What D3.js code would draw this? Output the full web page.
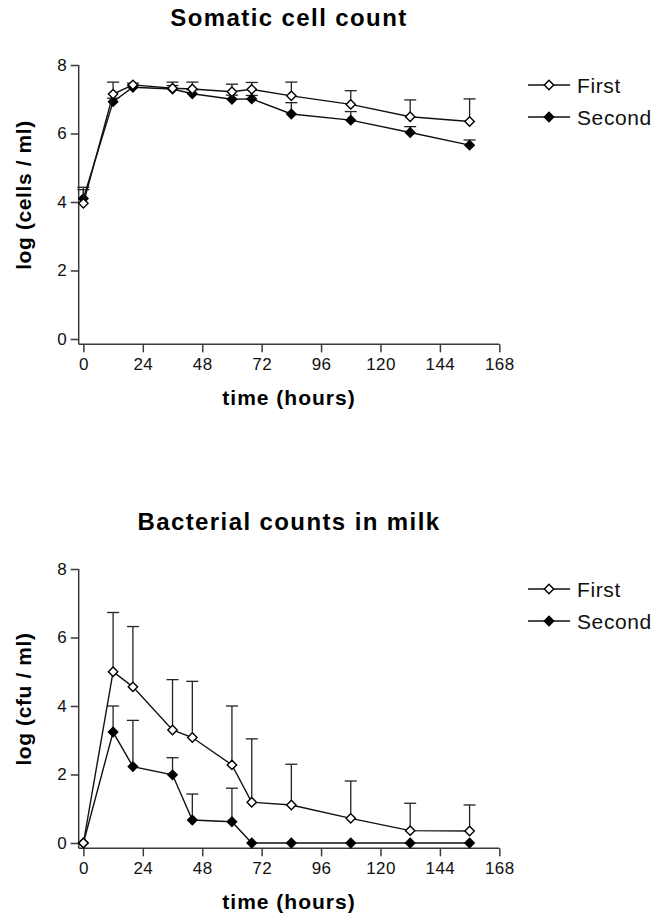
<!DOCTYPE html>
<html>
<head>
<meta charset="utf-8">
<script src="https://cdn.jsdelivr.net/npm/d3@7"></script>
<style>
  html, body { margin: 0; padding: 0; background: #fff; }
  svg { display: block; font-family: "Liberation Sans", Arial, Helvetica, sans-serif; }
</style>
</head>
<body>
<svg id="chart" width="657" height="920"></svg>
<script>
// Sampling times (hours after challenge)
const hours = [0, 12, 20, 36, 44, 60, 68, 84, 108, 132, 156];
const xTicks = [0, 24, 48, 72, 96, 120, 144, 168];
const yTicks = [0, 2, 4, 6, 8];
const seriesNames = ["First", "Second"];

// Somatic cell count, log(cells/ml): means and upper SD
const sccFirst = [3.96, 7.15, 7.42, 7.32, 7.30, 7.22, 7.29, 7.10, 6.85, 6.49, 6.35];
const sccFirstSd = [0.40, 0.35, 0.05, 0.18, 0.20, 0.22, 0.20, 0.40, 0.40, 0.49, 0.66];
const sccSecond = [4.10, 6.93, 7.35, 7.30, 7.16, 7.00, 7.01, 6.57, 6.39, 6.03, 5.66];
const sccSecondSd = [0.33, 0.10, 0.05, 0.10, 0.12, 0.12, 0.10, 0.33, 0.25, 0.17, 0.15];

// Bacterial counts in milk, log(cfu/ml): means and upper SD
const bacFirst = [0, 5.00, 4.56, 3.30, 3.08, 2.28, 1.19, 1.11, 0.72, 0.36, 0.35];
const bacFirstSd = [0, 1.73, 1.76, 1.47, 1.64, 1.72, 1.85, 1.19, 1.09, 0.80, 0.76];
const bacSecond = [0, 3.24, 2.23, 1.99, 0.67, 0.62, 0, 0, 0, 0, 0];
const bacSecondSd = [0, 0.76, 1.35, 0.50, 0.76, 0.98, 0, 0, 0, 0, 0];

const svg = d3.select("#chart");
const axisColor = "#3a3a3a";

function panel(cfg) {
  const g = svg.append("g").attr("transform", `translate(0,${cfg.top})`);
  const x = d3.scaleLinear().domain([0, 168]).range([83.4, 499.3]);
  const y = d3.scaleLinear().domain([0, 8]).range([274, 0]);
  const axisX = 78.7;       // y-axis line position
  const axisY = y(0) + 5.3; // x-axis line position

  // Title
  g.append("text")
    .attr("x", 289).attr("y", -39)
    .attr("text-anchor", "middle")
    .attr("font-size", 24).attr("font-weight", "bold")
    .attr("letter-spacing", 1.4)
    .text(cfg.title);

  // Axis lines
  g.append("line").attr("x1", axisX).attr("x2", axisX)
    .attr("y1", y(8)).attr("y2", axisY)
    .attr("stroke", axisColor).attr("stroke-width", 1.5);
  g.append("line").attr("x1", axisX).attr("x2", x(168))
    .attr("y1", axisY).attr("y2", axisY)
    .attr("stroke", axisColor).attr("stroke-width", 1.5);

  // Y axis ticks/labels
  const ya = g.append("g").attr("transform", `translate(${axisX},0)`)
    .call(d3.axisLeft(y).tickValues(yTicks).tickSize(8).tickPadding(4).tickFormat(d3.format("d")));
  ya.select(".domain").remove();
  ya.selectAll("line").attr("stroke", axisColor).attr("stroke-width", 1.5);
  ya.selectAll("text").attr("font-size", 17).attr("fill", "#111")
    .attr("font-family", "Liberation Sans, Arial, sans-serif");

  // X axis ticks/labels
  const xa = g.append("g").attr("transform", `translate(0,${axisY})`)
    .call(d3.axisBottom(x).tickValues(xTicks).tickSize(8).tickPadding(6).tickFormat(d3.format("d")));
  xa.select(".domain").remove();
  xa.selectAll("line").attr("stroke", axisColor).attr("stroke-width", 1.5);
  xa.selectAll("text").attr("font-size", 17).attr("fill", "#111")
    .attr("letter-spacing", 0.4)
    .attr("font-family", "Liberation Sans, Arial, sans-serif");

  // Axis titles
  g.append("text")
    .attr("x", 289).attr("y", axisY + 61)
    .attr("text-anchor", "middle")
    .attr("font-size", 21).attr("font-weight", "bold")
    .attr("letter-spacing", 1)
    .text("time (hours)");
  g.append("text")
    .attr("transform", `translate(31,${y(4) - 7}) rotate(-90)`)
    .attr("text-anchor", "middle")
    .attr("font-size", 21).attr("font-weight", "bold")
    .attr("letter-spacing", 0.6)
    .text(cfg.yLabel);

  const diamond = d3.symbol().type(d3.symbolDiamond2).size(56);
  const line = d3.line().x(d => x(d.t)).y(d => y(d.v));

  function drawSeries(vals, sds, fill) {
    const pts = hours.map((t, i) => ({ t, v: vals[i], sd: sds[i] }));
    g.append("path").datum(pts)
      .attr("d", line).attr("fill", "none")
      .attr("stroke", "#111").attr("stroke-width", 1.4);
    const eb = g.append("g").selectAll("g").data(pts.filter(d => d.sd > 0)).join("g");
    eb.append("line")
      .attr("x1", d => x(d.t)).attr("x2", d => x(d.t))
      .attr("y1", d => y(d.v)).attr("y2", d => y(d.v + d.sd))
      .attr("stroke", "#222").attr("stroke-width", 1.3);
    eb.append("line")
      .attr("x1", d => x(d.t) - 6).attr("x2", d => x(d.t) + 6)
      .attr("y1", d => y(d.v + d.sd)).attr("y2", d => y(d.v + d.sd))
      .attr("stroke", "#222").attr("stroke-width", 1.3);
    g.append("g").selectAll("path").data(pts).join("path")
      .attr("d", diamond)
      .attr("transform", d => `translate(${x(d.t)},${y(d.v)})`)
      .attr("fill", fill).attr("stroke", "#000").attr("stroke-width", 1.4);
  }

  drawSeries(cfg.second, cfg.secondSd, "#000");
  drawSeries(cfg.first, cfg.firstSd, "#fff");

  // Legend
  const leg = g.append("g").selectAll("g")
    .data(seriesNames).join("g")
    .attr("transform", (d, i) => `translate(528,${20 + i * 32})`);
  leg.append("line").attr("x1", 0).attr("x2", 42).attr("y1", 0).attr("y2", 0)
    .attr("stroke", "#111").attr("stroke-width", 1.4);
  leg.append("path").attr("d", diamond)
    .attr("transform", "translate(21,0)")
    .attr("fill", (d, i) => i === 0 ? "#fff" : "#000")
    .attr("stroke", "#000").attr("stroke-width", 1.4);
  leg.append("text").attr("x", 49).attr("y", 7.5)
    .attr("font-size", 21).attr("fill", "#111")
    .attr("letter-spacing", 0.6)
    .text(d => d);
}

panel({
  top: 65, title: "Somatic cell count", yLabel: "log (cells / ml)",
  first: sccFirst, firstSd: sccFirstSd, second: sccSecond, secondSd: sccSecondSd
});
panel({
  top: 569, title: "Bacterial counts in milk", yLabel: "log (cfu / ml)",
  first: bacFirst, firstSd: bacFirstSd, second: bacSecond, secondSd: bacSecondSd
});
</script>
</body>
</html>
